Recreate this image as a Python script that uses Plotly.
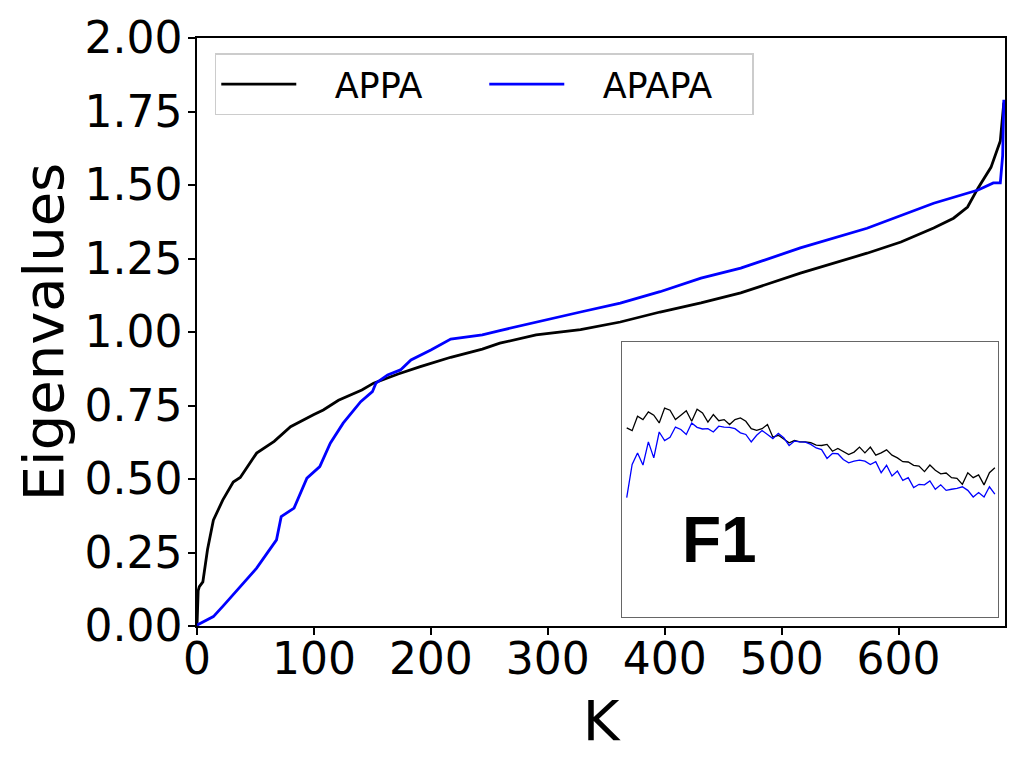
import plotly.graph_objects as go

# Main curves (sorted eigenvalues vs K)
appa_k = [0, 1, 2, 5, 9, 14, 22, 31, 37, 51, 66, 80, 100, 108, 121, 141, 151, 172, 191, 201,
          217, 244, 259, 290, 311, 328, 362, 396, 431, 465, 516, 573, 602, 630, 647, 659, 668,
          679, 687, 690]
appa_v = [0.0, 0.12, 0.134, 0.15, 0.26, 0.36, 0.428, 0.49, 0.505, 0.588, 0.628, 0.678, 0.719,
          0.735, 0.768, 0.803, 0.826, 0.857, 0.882, 0.895, 0.914, 0.942, 0.962, 0.99, 1.0,
          1.008, 1.034, 1.068, 1.099, 1.133, 1.2, 1.268, 1.306, 1.354, 1.387, 1.425, 1.49,
          1.56, 1.65, 1.78]

apapa_k = [0, 14, 23, 37, 51, 60, 68, 72, 83, 94, 105, 114, 125, 140, 150, 153, 163, 174, 183,
           200, 217, 244, 259, 328, 362, 396, 431, 465, 516, 573, 630, 668, 681, 687, 689, 690]
apapa_v = [0.003, 0.032, 0.071, 0.134, 0.197, 0.248, 0.293, 0.372, 0.401, 0.503, 0.542, 0.622,
           0.69, 0.763, 0.797, 0.826, 0.854, 0.871, 0.905, 0.939, 0.976, 0.99, 1.005, 1.068,
           1.098, 1.137, 1.183, 1.217, 1.286, 1.353, 1.438, 1.483, 1.507, 1.507, 1.6, 1.79]

# Inset (F1) series
inset_appa = [0.687, 0.677, 0.729, 0.717, 0.745, 0.733, 0.705, 0.759, 0.751, 0.717,
              0.733, 0.749, 0.711, 0.755, 0.741, 0.708, 0.735, 0.713, 0.717, 0.699,
              0.717, 0.723, 0.711, 0.684, 0.678, 0.684, 0.699, 0.653, 0.660, 0.648,
              0.633, 0.641, 0.636, 0.636, 0.633, 0.624, 0.623, 0.627, 0.602, 0.612,
              0.602, 0.590, 0.599, 0.617, 0.596, 0.617, 0.588, 0.596, 0.607, 0.588,
              0.578, 0.564, 0.563, 0.551, 0.548, 0.528, 0.552, 0.533, 0.520, 0.523,
              0.506, 0.504, 0.482, 0.524, 0.506, 0.516, 0.480, 0.524, 0.542]
inset_apapa = [0.434, 0.554, 0.596, 0.552, 0.636, 0.578, 0.672, 0.641, 0.653, 0.690,
               0.681, 0.663, 0.705, 0.689, 0.683, 0.684, 0.672, 0.693, 0.690, 0.689,
               0.684, 0.669, 0.663, 0.636, 0.660, 0.677, 0.663, 0.648, 0.667, 0.651,
               0.623, 0.639, 0.636, 0.635, 0.627, 0.614, 0.608, 0.576, 0.594, 0.593,
               0.572, 0.560, 0.566, 0.570, 0.566, 0.554, 0.564, 0.524, 0.551, 0.512,
               0.530, 0.496, 0.506, 0.470, 0.482, 0.480, 0.494, 0.464, 0.480, 0.460,
               0.464, 0.467, 0.473, 0.460, 0.436, 0.452, 0.436, 0.473, 0.446]
inset_idx = list(range(len(inset_appa)))

x_ticks = [0, 100, 200, 300, 400, 500, 600]
y_ticks = [0.0, 0.25, 0.5, 0.75, 1.0, 1.25, 1.5, 1.75, 2.0]

FONT = "DejaVu Sans"
GAP = "\u00a0\u00a0\u00a0"

fig = go.Figure()
fig.add_trace(go.Scatter(x=appa_k, y=appa_v, mode="lines", name=GAP + "APPA",
                         line=dict(color="black", width=2.8)))
fig.add_trace(go.Scatter(x=apapa_k, y=apapa_v, mode="lines", name=GAP + "APAPA",
                         line=dict(color="#0000ff", width=2.8)))
fig.add_trace(go.Scatter(x=inset_idx, y=inset_appa, mode="lines", showlegend=False,
                         line=dict(color="black", width=1.3), xaxis="x2", yaxis="y2"))
fig.add_trace(go.Scatter(x=inset_idx, y=inset_apapa, mode="lines", showlegend=False,
                         line=dict(color="#0000ff", width=1.3), xaxis="x2", yaxis="y2"))

axis_common = dict(showline=True, linecolor="black", linewidth=1.5, mirror=True,
                   ticks="outside", ticklen=7, tickwidth=1.5, tickcolor="black",
                   showgrid=False, zeroline=False, automargin=False,
                   tickfont=dict(family=FONT, size=44, color="black"))

fig.update_layout(
    width=1024, height=768,
    margin=dict(l=189, r=27, t=30, b=150),
    paper_bgcolor="white", plot_bgcolor="white",
    font=dict(family=FONT, color="black"),
    xaxis=dict(range=[0, 691], tickvals=x_ticks, domain=[0, 1], ticklabelstandoff=-14,
               title=dict(text="K", font=dict(family=FONT, size=56), standoff=18),
               **axis_common),
    yaxis=dict(range=[0, 2], tickvals=y_ticks, tickformat=".2f", domain=[0, 1],
               ticklabelstandoff=-3,
               title=dict(text="Eigenvalues", font=dict(family=FONT, size=56), standoff=3),
               **axis_common),
    xaxis2=dict(domain=[0.5256, 0.9908], anchor="y2", range=[-0.93, 68.5],
                showline=True, linecolor="#666666", linewidth=1, mirror=True, automargin=False,
                showticklabels=False, ticks="", showgrid=False, zeroline=False),
    yaxis2=dict(domain=[0.0153, 0.4835], anchor="x2", range=[0.0, 1.0],
                showline=True, linecolor="#666666", linewidth=1, mirror=True, automargin=False,
                showticklabels=False, ticks="", showgrid=False, zeroline=False),
    legend=dict(orientation="h", x=0.022, y=0.974, xanchor="left", yanchor="top",
                bgcolor="white", bordercolor="#cccccc", borderwidth=1.5,
                font=dict(family=FONT, size=35, color="black"),
                entrywidth=178, entrywidthmode="pixels", itemwidth=75),
    annotations=[dict(text="<b>F1</b>", x=0.647, y=0.146, xref="paper", yref="paper",
                      showarrow=False, font=dict(family="Liberation Sans", size=64, color="black"),
                      xanchor="center", yanchor="middle")],
    showlegend=True,
)

fig.write_html("out.html")
